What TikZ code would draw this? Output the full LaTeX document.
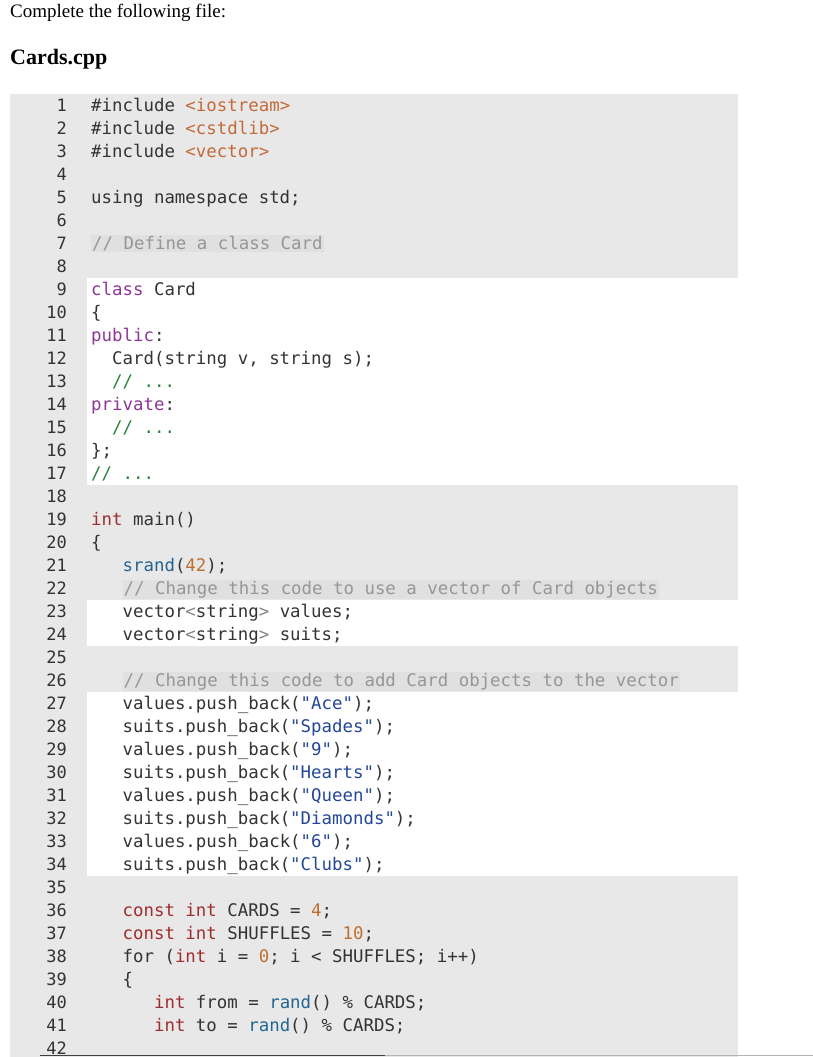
\documentclass[tikz,border=0pt]{standalone}
\usepackage{fontspec}
\setmainfont{Liberation Serif}
\newfontfamily\codefont{DejaVu Sans Mono}
\usepackage{xcolor}
\usetikzlibrary{positioning}
\definecolor{gutterbg}{RGB}{232,232,232}
\definecolor{commentbg}{RGB}{224,224,224}
\definecolor{plain}{RGB}{51,51,51}
\definecolor{incl}{RGB}{196,106,58}
\definecolor{kwpurple}{RGB}{140,55,150}
\definecolor{kwred}{RGB}{160,45,45}
\definecolor{numcol}{RGB}{190,112,50}
\definecolor{funcol}{RGB}{35,100,145}
\definecolor{strcol}{RGB}{35,70,150}
\definecolor{cmtgray}{RGB}{150,150,150}
\definecolor{cmtgreen}{RGB}{40,130,60}
\definecolor{ltgray}{RGB}{130,130,130}
\newcommand{\inc}[1]{\textcolor{incl}{#1}}
\newcommand{\kp}[1]{\textcolor{kwpurple}{#1}}
\newcommand{\kr}[1]{\textcolor{kwred}{#1}}
\newcommand{\nm}[1]{\textcolor{numcol}{#1}}
\newcommand{\fn}[1]{\textcolor{funcol}{#1}}
\newcommand{\st}[1]{\textcolor{strcol}{#1}}
\newcommand{\cg}[1]{\textcolor{cmtgreen}{#1}}
\newcommand{\tpl}[1]{\textcolor{ltgray}{<}#1\textcolor{ltgray}{>}}
\newcommand{\cm}[1]{\colorbox{commentbg}{\textcolor{cmtgray}{#1}}}
\setlength{\fboxsep}{1pt}
\tikzset{
    lnum/.style={anchor=base east, inner sep=0pt, font=\codefont\fontsize{17}{17}\selectfont, text=plain},
    code/.style={anchor=base west, inner sep=0pt, font=\codefont\fontsize{17.4}{17.4}\selectfont, text=plain},
    band/.style={fill=gutterbg, draw=none}
}
\begin{document}
\begin{tikzpicture}[x=1pt, y=-1pt]
    \useasboundingbox (0,0) rectangle (813,1057);
    % Header
    \node (intro) [anchor=base west, inner sep=0pt, font=\fontsize{19}{19}\selectfont, text=black] at (10,18) {Complete the following file:};
    \node (title) [anchor=base west, inner sep=0pt, font=\bfseries\fontsize{22}{22}\selectfont, text=black] at (10,65) {Cards.cpp};

    % Backgrounds
    \fill [band] (10,94) rectangle (87,1057);
    \fill [band] (87,94) rectangle (738,277.5);
    \fill [band] (87,484.5) rectangle (738,599.5);
    \fill [band] (87,645.5) rectangle (738,691.5);
    \fill [band] (87,875.5) rectangle (738,1057);
    \draw [ltgray!60, line width=1pt] (385,1055.5) -- (813,1055.5);
    \draw [black!75, line width=1.5pt] (40,1055.5) -- (385,1055.5);

    % Line numbers
    \foreach \i in {1,...,42}
        \node (n\i) [lnum] at (67,{111+23*(\i-1)}) {\i};

    % Code
    \node (l1) [code] at (91,111) {\#include \inc{<iostream>}};
    \node (l2) [code, below=23pt of l1.base west, anchor=base west] {\#include \inc{<cstdlib>}};
    \node (l3) [code, below=23pt of l2.base west, anchor=base west] {\#include \inc{<vector>}};
    \node (l5) [code, below=46pt of l3.base west, anchor=base west] {using namespace std;};
    \node (l7) [code, below=46pt of l5.base west, anchor=base west] {\cm{// Define a class Card}};
    \node (l9) [code, below=46pt of l7.base west, anchor=base west] {\kp{class} Card};
    \node (l10) [code, below=23pt of l9.base west, anchor=base west] {\{};
    \node (l11) [code, below=23pt of l10.base west, anchor=base west] {\kp{public}:};
    \node (l12) [code, below=23pt of l11.base west, anchor=base west] {\ \ Card(string v, string s);};
    \node (l13) [code, below=23pt of l12.base west, anchor=base west] {\ \ \cg{// ...}};
    \node (l14) [code, below=23pt of l13.base west, anchor=base west] {\kp{private}:};
    \node (l15) [code, below=23pt of l14.base west, anchor=base west] {\ \ \cg{// ...}};
    \node (l16) [code, below=23pt of l15.base west, anchor=base west] {\};};
    \node (l17) [code, below=23pt of l16.base west, anchor=base west] {\cg{// ...}};
    \node (l19) [code, below=46pt of l17.base west, anchor=base west] {\kr{int} main()};
    \node (l20) [code, below=23pt of l19.base west, anchor=base west] {\{};
    \node (l21) [code, below=23pt of l20.base west, anchor=base west] {\ \ \ \fn{srand}(\nm{42});};
    \node (l22) [code, below=23pt of l21.base west, anchor=base west] {\ \ \ \cm{// Change this code to use a vector of Card objects}};
    \node (l23) [code, below=23pt of l22.base west, anchor=base west] {\ \ \ vector\tpl{string} values;};
    \node (l24) [code, below=23pt of l23.base west, anchor=base west] {\ \ \ vector\tpl{string} suits;};
    \node (l26) [code, below=46pt of l24.base west, anchor=base west] {\ \ \ \cm{// Change this code to add Card objects to the vector}};
    \node (l27) [code, below=23pt of l26.base west, anchor=base west] {\ \ \ values.push\_back(\st{"Ace"});};
    \node (l28) [code, below=23pt of l27.base west, anchor=base west] {\ \ \ suits.push\_back(\st{"Spades"});};
    \node (l29) [code, below=23pt of l28.base west, anchor=base west] {\ \ \ values.push\_back(\st{"9"});};
    \node (l30) [code, below=23pt of l29.base west, anchor=base west] {\ \ \ suits.push\_back(\st{"Hearts"});};
    \node (l31) [code, below=23pt of l30.base west, anchor=base west] {\ \ \ values.push\_back(\st{"Queen"});};
    \node (l32) [code, below=23pt of l31.base west, anchor=base west] {\ \ \ suits.push\_back(\st{"Diamonds"});};
    \node (l33) [code, below=23pt of l32.base west, anchor=base west] {\ \ \ values.push\_back(\st{"6"});};
    \node (l34) [code, below=23pt of l33.base west, anchor=base west] {\ \ \ suits.push\_back(\st{"Clubs"});};
    \node (l36) [code, below=46pt of l34.base west, anchor=base west] {\ \ \ \kr{const int} CARDS = \nm{4};};
    \node (l37) [code, below=23pt of l36.base west, anchor=base west] {\ \ \ \kr{const int} SHUFFLES = \nm{10};};
    \node (l38) [code, below=23pt of l37.base west, anchor=base west] {\ \ \ for (\kr{int} i = \nm{0}; i < SHUFFLES; i++)};
    \node (l39) [code, below=23pt of l38.base west, anchor=base west] {\ \ \ \{};
    \node (l40) [code, below=23pt of l39.base west, anchor=base west] {\ \ \ \ \ \ \kr{int} from = \fn{rand}() \% CARDS;};
    \node (l41) [code, below=23pt of l40.base west, anchor=base west] {\ \ \ \ \ \ \kr{int} to = \fn{rand}() \% CARDS;};
\end{tikzpicture}
\end{document}
